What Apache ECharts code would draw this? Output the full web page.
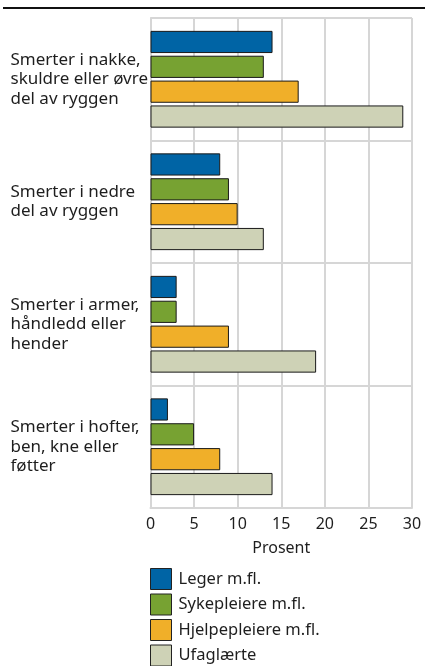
<!DOCTYPE html>
<html>
<head>
<meta charset="utf-8">
<script src="https://cdn.jsdelivr.net/npm/echarts@6/dist/echarts.min.js"></script>
<style>
  html, body { margin: 0; padding: 0; background: #fff; }
  #chart { width: 425px; height: 666px; }
</style>
</head>
<body>
<div id="chart"></div>
<script>
// kategorier (ovenfra og ned)
const categories = [
  "Smerter i nakke,\nskuldre eller øvre\ndel av ryggen",
  "Smerter i nedre\ndel av ryggen",
  "Smerter i armer,\nhåndledd eller\nhender",
  "Smerter i hofter,\nben, kne eller\nføtter"
];

// prosent per yrkesgruppe
const leger = [14, 8, 3, 2];
const sykepleiere = [13, 9, 3, 5];
const hjelpepleiere = [17, 10, 9, 8];
const ufaglaerte = [29, 13, 19, 14];

const xTicks = [0, 5, 10, 15, 20, 25, 30];

const groups = [
  { name: "Leger m.fl.", data: leger, color: "#0064a5" },
  { name: "Sykepleiere m.fl.", data: sykepleiere, color: "#77a232" },
  { name: "Hjelpepleiere m.fl.", data: hjelpepleiere, color: "#f0af29" },
  { name: "Ufaglærte", data: ufaglaerte, color: "#ced2b6" }
];

const font = "'Noto Sans', 'Open Sans', sans-serif";
const gridColor = "#d6d6d6";
const textColor = "#1e1e1e";

const chart = echarts.init(document.getElementById("chart"), null, { renderer: "canvas" });

// en legende per rad, stablet nedover
const legends = groups.map((g, i) => ({
  orient: "vertical",
  left: 150,
  top: 568 + i * 25.5,
  padding: 0,
  itemWidth: 21,
  itemHeight: 21,
  icon: "rect",
  itemStyle: { borderColor: "#222", borderWidth: 1 },
  textStyle: { fontFamily: font, fontSize: 16.5, color: textColor, padding: [0, 0, 0, 2] },
  data: [g.name]
}));

const option = {
  animation: false,
  textStyle: { fontFamily: font, color: textColor },
  graphic: [
    {
      type: "line",
      shape: { x1: 3, y1: 8, x2: 425, y2: 8 },
      style: { stroke: "#111", lineWidth: 2 }
    }
  ],
  legend: legends,
  grid: { left: 150.5, right: 13, top: 18, bottom: 158, containLabel: false },
  xAxis: {
    type: "value",
    min: 0,
    max: 30,
    interval: 5,
    name: "Prosent",
    nameLocation: "middle",
    nameGap: 32,
    nameTextStyle: { fontSize: 16, color: textColor },
    axisLine: { show: true, lineStyle: { color: gridColor, width: 2 } },
    axisTick: { show: false },
    axisLabel: {
      fontSize: 16,
      color: textColor,
      margin: 8,
      formatter: v => (xTicks.includes(v) ? String(v) : "")
    },
    splitLine: { show: true, lineStyle: { color: gridColor, width: 2 } }
  },
  yAxis: {
    type: "category",
    inverse: true,
    data: categories,
    axisLine: { show: true, lineStyle: { color: gridColor, width: 2 } },
    axisTick: { show: false },
    axisLabel: {
      align: "left",
      margin: 140,
      fontSize: 17,
      lineHeight: 19.5,
      padding: [4, 0, 0, 0],
      color: textColor
    },
    splitLine: { show: true, lineStyle: { color: gridColor, width: 2 } }
  },
  series: groups.map(g => ({
    name: g.name,
    type: "bar",
    data: g.data,
    barGap: "12%",
    barCategoryGap: "21%",
    itemStyle: { color: g.color, borderColor: "#1a1a1a", borderWidth: 1 }
  }))
};

chart.setOption(option);
</script>
</body>
</html>
